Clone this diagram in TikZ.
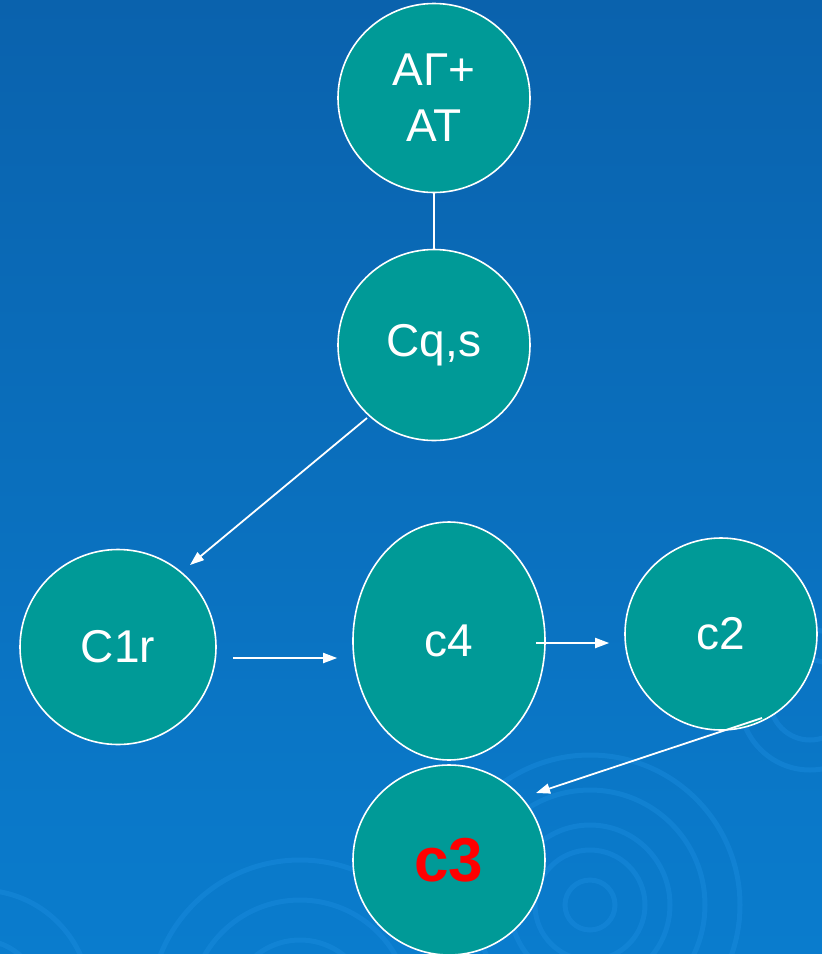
\documentclass[tikz,border=0pt]{standalone}
\usepackage{fontspec}
\setmainfont{Liberation Sans}
\usetikzlibrary{shapes.geometric,arrows.meta,calc}
\definecolor{bgtop}{HTML}{0A62AD}
\definecolor{bgbot}{HTML}{0A7CCD}
\definecolor{ripple}{HTML}{1A8CDE}
\definecolor{tealfill}{HTML}{009A97}
\definecolor{txtred}{HTML}{FF0000}
\tikzset{
  bubble/.style={ellipse, draw=white, line width=1.6pt, fill=tealfill, inner sep=0pt,
    text=white, font=\fontsize{46}{56}\selectfont, align=center},
  arr/.style={draw=white, line width=1.8pt, -{Triangle[length=14pt,width=10pt]}},
  link/.style={draw=white, line width=1.8pt},
  ring/.style={draw=ripple, line width=5pt, opacity=0.45}
}
\begin{document}
\begin{tikzpicture}[x=1pt,y=-1pt]
\useasboundingbox (0,0) rectangle (822,954);
\shade[top color=bgtop, bottom color=bgbot] (0,0) rectangle (822,954);
\begin{scope}
\clip (0,0) rectangle (822,954);
\foreach \r in {25,55,80,115,150}
  \draw[ring] (590,905) circle (\r);
\foreach \r in {70,110,150}
  \draw[ring] (300,1010) circle (\r);
\foreach \r in {60,110}
  \draw[ring] (-20,1000) circle (\r);
\foreach \r in {40,70}
  \draw[ring] (810,700) circle (\r);
\end{scope}
\node[bubble, minimum width=192pt, minimum height=189pt] (aat) at (434,98) {AГ+\\AT};
\node[bubble, minimum width=192pt, minimum height=191pt] (cqs) at (434,345) {Cq,s};
\node[bubble, minimum width=196pt, minimum height=195pt] (c1r) at (118,647) {C1r};
\node[bubble, minimum width=192pt, minimum height=238pt] (c4) at (449,641) {c4};
\node[bubble, minimum width=192pt, minimum height=192pt] (c2) at (721,634) {c2};
\node[bubble, minimum width=192pt, minimum height=190pt, text=txtred,
  font=\fontsize{62}{72}\selectfont\bfseries] (c3) at (449,860) {c3};
\draw[link] (aat.south) -- (cqs.north);
\draw[arr] ($(cqs.center)+(-67,73)$) -- ($(c1r.center)+(72,-82)$);
\draw[arr] ($(c1r.east)+(16,11)$) -- ($(c4.west)+(-15,17)$);
\draw[arr] ($(c4.east)+(-10,2)$) -- ($(c2.west)+(-15,9)$);
\draw[arr] ($(c2.center)+(41,84)$) -- ($(c3.center)+(87,-67)$);
\end{tikzpicture}
\end{document}
